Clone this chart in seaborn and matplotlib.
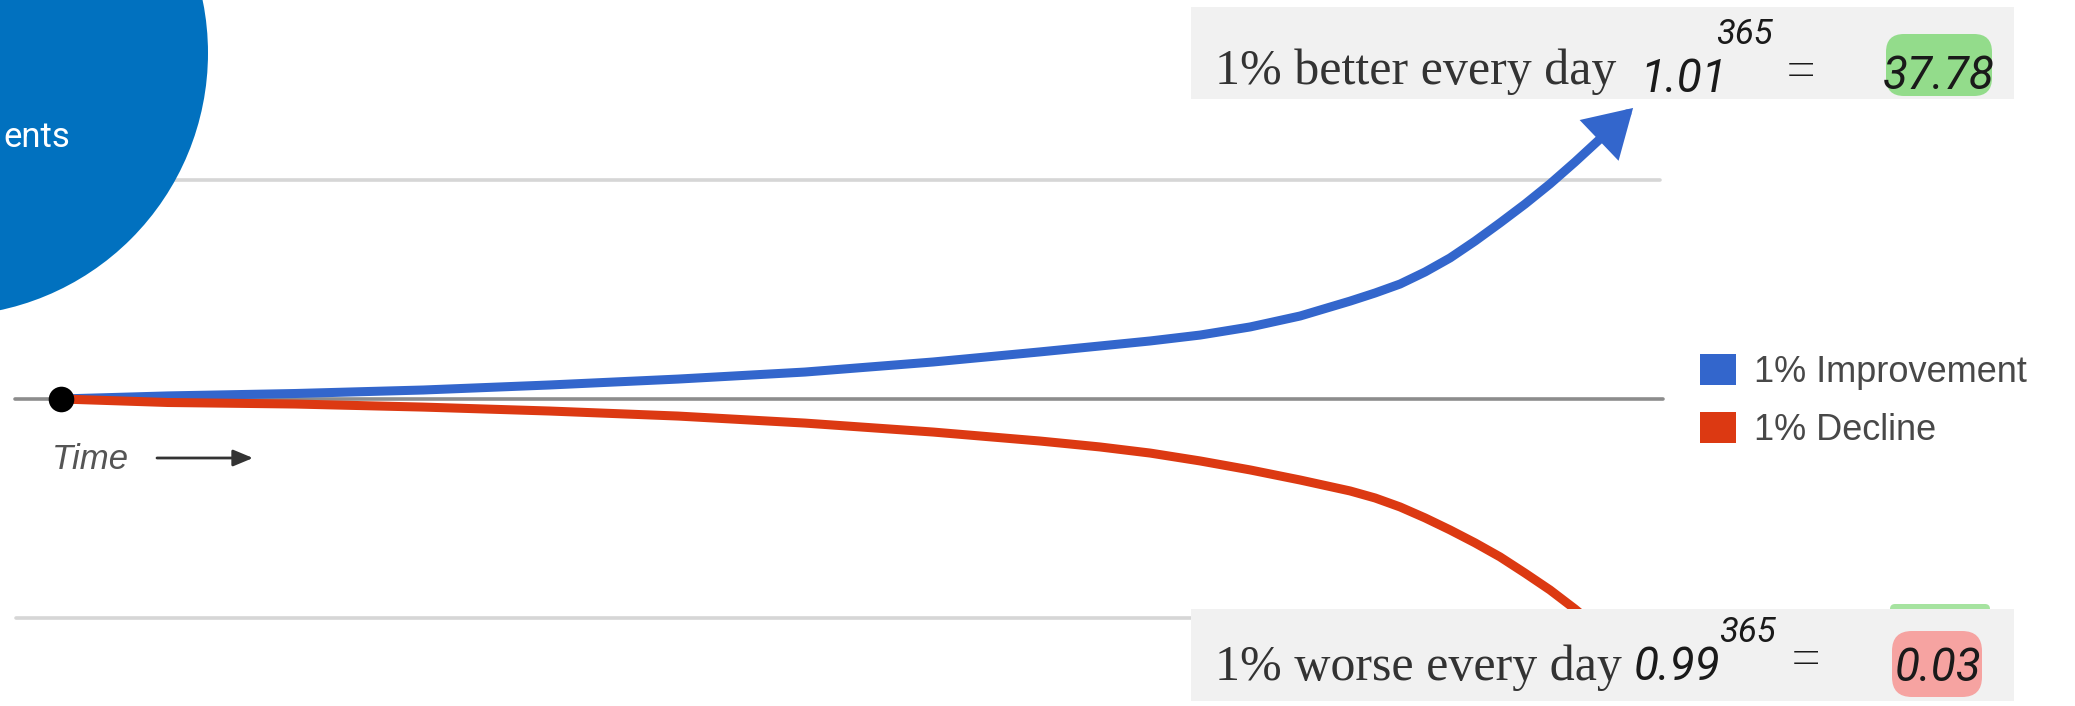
import numpy as np
import pandas as pd
import matplotlib
matplotlib.use("Agg")
import matplotlib.pyplot as plt
import seaborn as sns
from matplotlib.patches import Ellipse, Rectangle, FancyBboxPatch, FancyArrowPatch, Patch
from matplotlib.transforms import IdentityTransform

# ---------------- data ----------------
days_improve = [0, 24.8, 54.3, 84.1, 113.5, 143.3, 172.7, 202.5, 227.3, 241.2, 252.9, 264.5,
                276.1, 287.7, 299.3, 305.1, 310.9, 316.7, 322.5, 328.3, 334.1, 339.9, 345.7,
                351.5, 357.3, 360.1, 365.0]
level_improve = [0, 0.014, 0.025, 0.041, 0.064, 0.091, 0.123, 0.169, 0.215, 0.242, 0.265, 0.292,
                 0.329, 0.379, 0.447, 0.484, 0.525, 0.580, 0.644, 0.721, 0.804, 0.890, 0.982,
                 1.082, 1.187, 1.237, 1.329]
days_decline = [0, 24.8, 54.3, 84.1, 113.5, 143.3, 172.7, 202.5, 227.3, 241.2, 252.9, 264.5,
                276.1, 287.7, 299.3, 305.1, 310.9, 316.7, 322.5, 328.3, 334.1, 339.9, 345.7,
                351.5, 357.3, 363.1]
level_decline = [0, -0.016, -0.023, -0.037, -0.055, -0.078, -0.110, -0.151, -0.192, -0.219,
                 -0.247, -0.283, -0.324, -0.370, -0.420, -0.452, -0.493, -0.543, -0.598,
                 -0.657, -0.721, -0.795, -0.872, -0.959, -1.055, -1.160]
series_names = ["1% Improvement", "1% Decline"]
series_colors = ["#3366CC", "#DC3912"]
gridline_levels = [1.0, -1.0]
axis_label = "Time"
better_label = "1% better every day"
worse_label = "1% worse every day"
better_base, better_result = "1.01", "37.78"
worse_base, worse_result = "0.99", "0.03"
exponent = "365"
circle_text = "ents"

# ---------------- figure ----------------
W, H = 2075, 706
sns.set_theme(style="white")
plt.rcParams["font.family"] = ["Liberation Sans", "DejaVu Sans"]
fig = plt.figure(figsize=(W / 100, H / 100), dpi=100)
fig.patch.set_facecolor("white")


def fx(px):
    return px / W


def fy(py):
    return 1 - py / H


ax = fig.add_axes([0, 0, 1, 1])

# reference lines
for lv in gridline_levels:
    ax.axhline(lv, xmin=16 / W, xmax=1660 / W, color="#d6d6d6", lw=2.6, zorder=1)
ax.axhline(0, xmin=15 / W, xmax=1663 / W, color="#8c8c8c", lw=2.6, zorder=1)

# curves (improvement line stops at the arrow head base)
df = pd.concat([
    pd.DataFrame({"day": days_improve[:-1], "level": level_improve[:-1], "series": series_names[0]}),
    pd.DataFrame({"day": days_decline, "level": level_decline, "series": series_names[1]}),
])
sns.lineplot(data=df, x="day", y="level", hue="series", hue_order=series_names,
             palette=dict(zip(series_names, series_colors)), linewidth=6.5,
             legend=False, ax=ax, zorder=3, estimator=None,
             solid_joinstyle="round", solid_capstyle="butt")
ax.set_xlim(-14.16, 467.6)
ax.set_ylim(-1.402, 1.822)
ax.axis("off")

# arrow head on the improvement curve
ax.annotate("", xy=(days_improve[-1], level_improve[-1]),
            xytext=(days_improve[-2], level_improve[-2]),
            arrowprops=dict(arrowstyle="-|>,head_length=0.5,head_width=0.3",
                            mutation_scale=50, color=series_colors[0], lw=6,
                            shrinkA=0, shrinkB=0, joinstyle="miter"), zorder=4)

# start dot
ax.scatter([days_improve[0]], [level_improve[0]], s=340, color="black", zorder=5, linewidths=0)

# legend
handles = [Patch(facecolor=c, edgecolor="none", label=n) for n, c in zip(series_names, series_colors)]
ax.legend(handles=handles, loc="upper left", bbox_to_anchor=(fx(1700), fy(354)),
          bbox_transform=fig.transFigure, frameon=False, fontsize=26,
          handlelength=1.0, handleheight=0.95, handletextpad=0.5,
          labelspacing=0.6, borderpad=0, borderaxespad=0, labelcolor="#484848")

# Time label and arrow
fig.text(fx(52), fy(469), axis_label, fontsize=25, style="italic", color="#555555",
         va="baseline", ha="left")
fig.add_artist(FancyArrowPatch(
    (fx(157), fy(458)), (fx(253), fy(458)), transform=fig.transFigure,
    arrowstyle="-|>,head_length=0.6,head_width=0.25", mutation_scale=20,
    color="#333333", lw=2, shrinkA=0, shrinkB=0))

# blue circle top-left
fig.add_artist(Ellipse((fx(-55), fy(53)), 2 * 263 / W, 2 * 263 / H,
                       transform=fig.transFigure, facecolor="#0171bf", edgecolor="none", zorder=2))
fig.text(fx(70), fy(147), circle_text, fontsize=25, color="white", ha="right", va="baseline",
         family=["Roboto", "DejaVu Sans"], fontweight="normal", zorder=3)

# small green smear peeking above the lower box
fig.add_artist(FancyBboxPatch((1892, H - 614), 96, 8, boxstyle="round,pad=2,rounding_size=5",
                              transform=IdentityTransform(), facecolor="#a6e3a0",
                              edgecolor="none", zorder=1.9))

# annotation boxes
for top in (7, 609):
    fig.add_artist(Rectangle((fx(1191), fy(top + 92)), (2014 - 1191) / W, 92 / H,
                             transform=fig.transFigure, facecolor="#f1f1f1",
                             edgecolor="none", zorder=2))

# highlights (pixel coords, origin bottom-left)
fig.add_artist(FancyBboxPatch((1891, H - 91), 96, 52, boxstyle="round,pad=5,rounding_size=18",
                              transform=IdentityTransform(), facecolor="#93dc8b",
                              edgecolor="none", zorder=2.5))
fig.add_artist(FancyBboxPatch((1897, H - 692), 80, 56, boxstyle="round,pad=5,rounding_size=20",
                              transform=IdentityTransform(), facecolor="#f6a3a1",
                              edgecolor="none", zorder=2.5))

serif = ["Liberation Serif", "DejaVu Serif"]
hand = ["Roboto", "DejaVu Sans"]
tcol = "#333333"
hcol = "#1a1a1a"

fig.text(fx(1215), fy(84), better_label, fontsize=36, family=serif, color=tcol,
         va="baseline", ha="left", zorder=3)
fig.text(fx(1215), fy(680), worse_label, fontsize=36, family=serif, color=tcol,
         va="baseline", ha="left", zorder=3)

# handwritten formulas
hw = dict(family=hand, fontweight="normal", style="italic", color=hcol, zorder=3)
fig.text(fx(1640), fy(92), better_base, fontsize=33, va="baseline", ha="left", **hw)
fig.text(fx(1716), fy(44), exponent, fontsize=25, va="baseline", ha="left", **hw)
fig.text(fx(1801), fy(72), "=", fontsize=42, va="center", ha="center",
         family=hand, fontweight="light", color=hcol, zorder=3)
fig.text(fx(1939), fy(89), better_result, fontsize=33, va="baseline", ha="center", **hw)

fig.text(fx(1634), fy(680), worse_base, fontsize=33, va="baseline", ha="left", **hw)
fig.text(fx(1719), fy(642), exponent, fontsize=25, va="baseline", ha="left", **hw)
fig.text(fx(1806), fy(661), "=", fontsize=42, va="center", ha="center",
         family=hand, fontweight="light", color=hcol, zorder=3)
fig.text(fx(1938), fy(681), worse_result, fontsize=33, va="baseline", ha="center", **hw)

fig.savefig("out.png", dpi=100, facecolor="white")
